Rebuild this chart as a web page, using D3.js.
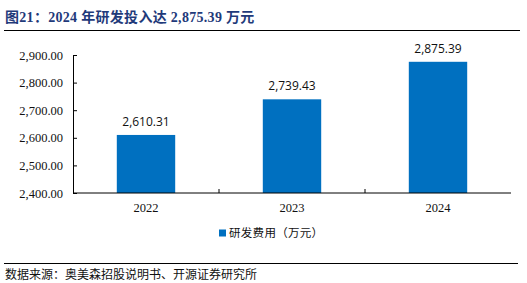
<!DOCTYPE html>
<html>
<head>
<meta charset="utf-8">
<script src="https://cdn.jsdelivr.net/npm/d3@7"></script>
<style>
  body { margin: 0; background: #fff; }
  svg { display: block; }
</style>
</head>
<body>
<div id="chart"></div>
<script>
const years = ["2022", "2023", "2024"];
const rdSpend = [2610.31, 2739.43, 2875.39];
const yTicks = [2400, 2500, 2600, 2700, 2800, 2900];

const W = 527, H = 283;
const margin = {top: 55, right: 16, bottom: 90, left: 73};
const width = W - margin.left - margin.right;   // 438
const height = 193 - margin.top;                // 138

const svg = d3.select("#chart").append("svg")
    .attr("width", W)
    .attr("height", H);

// title + rule
svg.append("text")
    .attr("x", 5)
    .attr("y", 22)
    .attr("fill", "#1f3a7a")
    .attr("font-family", "'Liberation Serif', 'Noto Sans CJK SC', serif")
    .attr("font-weight", "bold")
    .attr("font-size", 14)
    .attr("letter-spacing", 0.3)
    .text("图21：2024 年研发投入达 2,875.39 万元");

svg.append("line")
    .attr("x1", 4).attr("x2", 520)
    .attr("y1", 30.5).attr("y2", 30.5)
    .attr("stroke", "#000")
    .attr("stroke-width", 1.2);

const g = svg.append("g")
    .attr("transform", `translate(${margin.left},${margin.top})`);

const x = d3.scaleBand()
    .domain(years)
    .range([0, width])
    .paddingInner(0.6)
    .paddingOuter(0.3);

const y = d3.scaleLinear()
    .domain([2400, 2900])
    .range([height, 0]);

// y axis
g.append("g")
    .call(d3.axisLeft(y).tickValues(yTicks).tickFormat(d3.format(",.2f")).tickSizeInner(-4).tickSizeOuter(0).tickPadding(10))
    .call(a => a.select(".domain").attr("stroke", "#000"))
    .call(a => a.selectAll(".tick line").attr("stroke", "#000"))
    .call(a => a.selectAll("text")
        .attr("font-family", "'Liberation Serif', serif")
        .attr("font-size", 12.5)
        .attr("fill", "#111"));

// bars
g.selectAll(".bar")
    .data(rdSpend)
    .enter()
    .append("rect")
    .attr("x", (d, i) => x(years[i]))
    .attr("y", d => y(d))
    .attr("width", x.bandwidth())
    .attr("height", d => height - y(d))
    .attr("fill", "#0070c0");

// value labels
g.selectAll(".val")
    .data(rdSpend)
    .enter()
    .append("text")
    .attr("x", (d, i) => x(years[i]) + x.bandwidth() / 2)
    .attr("y", d => y(d) - 9)
    .attr("text-anchor", "middle")
    .attr("font-family", "'Open Sans', 'Liberation Sans', sans-serif")
    .attr("font-size", 12)
    .attr("fill", "#111")
    .text(d => d3.format(",.2f")(d));

// x axis with ticks between categories
const xEdge = d3.scaleLinear().domain([0, years.length]).range([0, width]);
const xAxis = g.append("g").attr("transform", `translate(0,${height})`);
xAxis.append("line")
    .attr("x1", 0).attr("x2", width)
    .attr("stroke", "#000");
xAxis.selectAll(".sep")
    .data(d3.range(1, years.length))
    .enter()
    .append("line")
    .attr("x1", d => xEdge(d)).attr("x2", d => xEdge(d))
    .attr("y1", 0).attr("y2", -4)
    .attr("stroke", "#000");
xAxis.selectAll(".lab")
    .data(years)
    .enter()
    .append("text")
    .attr("x", d => x(d) + x.bandwidth() / 2)
    .attr("y", 19)
    .attr("text-anchor", "middle")
    .attr("font-family", "'Liberation Serif', serif")
    .attr("font-size", 12.5)
    .attr("fill", "#111")
    .text(d => d);

// legend
const leg = svg.append("g").attr("transform", "translate(219,233)");
leg.append("rect")
    .attr("x", 0).attr("y", -3.5)
    .attr("width", 7).attr("height", 7)
    .attr("fill", "#0070c0");
leg.append("text")
    .attr("x", 10)
    .attr("y", 4)
    .attr("font-family", "'Noto Sans CJK SC', sans-serif")
    .attr("font-size", 11.5)
    .attr("letter-spacing", 0.3)
    .attr("fill", "#111")
    .text("研发费用（万元）");

// footer
svg.append("line")
    .attr("x1", 4).attr("x2", 518)
    .attr("y1", 263.5).attr("y2", 263.5)
    .attr("stroke", "#000")
    .attr("stroke-width", 1.2);
svg.append("text")
    .attr("x", 5)
    .attr("y", 279)
    .attr("font-family", "'Noto Sans CJK SC', sans-serif")
    .attr("font-size", 12)
    .attr("fill", "#111")
    .text("数据来源：奥美森招股说明书、开源证券研究所");
</script>
</body>
</html>
